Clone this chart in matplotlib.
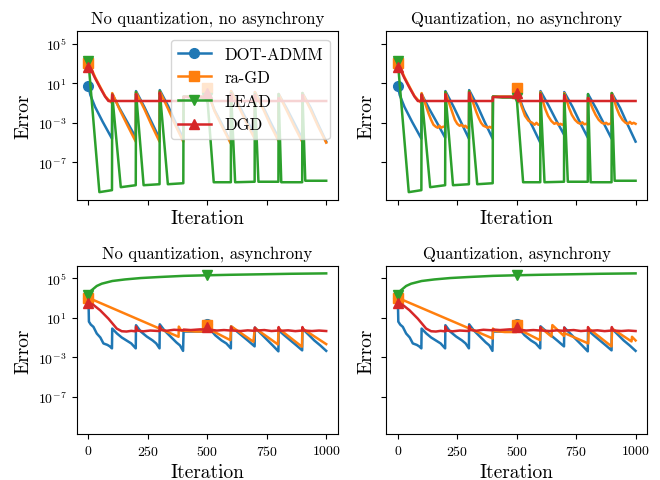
import numpy as np
import matplotlib
matplotlib.use("Agg")
import matplotlib.pyplot as plt
from matplotlib.ticker import NullLocator

plt.rcParams['font.family'] = 'serif'
plt.rcParams['font.serif'] = ['cmr10']
plt.rcParams['mathtext.fontset'] = 'cm'
plt.rcParams['axes.formatter.use_mathtext'] = True

# log10 of the error

# top row: DOT-ADMM, LEAD, DGD are the same in both panels
top_dot_it = [0, 8, 28, 60, 99, 100, 130, 165, 199, 200, 235, 265, 299, 300, 335, 365, 399,
              400, 495, 500, 508, 530, 565, 599, 600, 635, 665, 699, 700, 735, 765, 799,
              800, 835, 865, 899, 900, 935, 965, 1000]
top_dot_log = [0.7, -0.2, -1.4, -2.9, -4.6, -0.1, -1.5, -3.0, -4.5, 0.2, -1.4, -2.9, -4.6, 0.3, -1.3, -2.9, -4.6,
               -0.35, -0.35, 0.45, -0.3, -1.7, -3.3, -5.0, 0.2, -1.3, -2.7, -4.2, 0.1, -1.4, -2.9, -4.5,
               -0.1, -1.6, -3.0, -4.6, 0.0, -1.5, -3.1, -4.9]

top_lead_it = [0, 46, 99, 100, 136, 199, 200, 232, 299, 300, 334, 399, 400, 440, 499, 500, 527, 599,
               600, 617, 699, 700, 715, 799, 800, 811, 899, 900, 912, 1000]
top_lead_log = [3.2, -10.0, -9.8, -0.15, -9.5, -9.3, 0.1, -9.3, -9.2, 0.2, -9.2, -9.1, -0.35, -0.45, -0.45, -0.45, -9.0, -9.0,
                0.0, -9.0, -8.95, -0.1, -8.95, -8.95, -0.1, -9.0, -9.0, 0.0, -8.85, -8.85]

top_dgd_it = [0, 12, 28, 50, 70, 84, 99, 100, 106, 199, 200, 206, 299, 300, 306, 399, 400, 499, 500, 506,
              599, 600, 606, 699, 700, 706, 799, 800, 806, 899, 900, 906, 1000]
top_dgd_log = [2.6, 2.3, 1.5, 0.5, -0.35, -0.8, -0.8, -0.15, -0.8, -0.8, -0.1, -0.8, -0.8, 0.05, -0.8, -0.8, -0.4, -0.4, 0.0, -0.8,
               -0.8, -0.1, -0.8, -0.8, -0.2, -0.8, -0.8, -0.5, -0.8, -0.8, -0.2, -0.8, -0.8]

# ra-GD, no quantization
tl_ragd_it = [0, 12, 28, 50, 70, 85, 99, 100, 130, 165, 199, 200, 235, 265, 299, 300, 335, 365, 399,
              400, 499, 500, 508, 530, 565, 599, 600, 635, 665, 699, 700, 735, 765, 799,
              800, 835, 865, 899, 900, 935, 965, 1000]
tl_ragd_log = [3.0, 2.5, 1.6, 0.6, -0.3, -0.7, -1.0, 0.0, -1.6, -3.3, -4.9, 0.1, -1.6, -3.2, -4.9, 0.2, -1.6, -3.2, -4.9,
               -0.35, -0.35, 0.5, -0.3, -1.8, -3.5, -5.1, 0.2, -1.5, -3.0, -4.6, 0.1, -1.6, -3.2, -4.8,
               -0.1, -1.8, -3.3, -4.9, 0.0, -1.7, -3.3, -5.0]

# ra-GD, quantization
tr_ragd_it = [0, 12, 28, 50, 70, 85, 99,
              100, 110, 120, 130, 140, 150, 160, 168, 175, 182, 190, 199,
              200, 210, 220, 230, 240, 250, 260, 268, 276, 284, 292, 299,
              300, 310, 320, 330, 340, 350, 360, 370, 378, 386, 393, 399,
              400, 499,
              500, 508, 520, 535, 550, 565, 575, 583, 591, 599,
              600, 610, 620, 632, 645, 658, 668, 676, 684, 692, 699,
              700, 710, 720, 732, 745, 758, 768, 776, 784, 792, 799,
              800, 810, 820, 832, 845, 858, 868, 876, 884, 892, 899,
              900, 910, 920, 932, 945, 958, 968, 976, 984, 992, 1000]
tr_ragd_log = [3.0, 2.5, 1.6, 0.6, -0.3, -0.7, -1.0,
               0.0, -0.7, -1.4, -2.1, -2.7, -3.2, -3.4, -3.5, -3.3, -3.5, -3.4, -3.4,
               0.1, -0.6, -1.3, -2.0, -2.7, -3.1, -3.3, -3.2, -3.4, -3.3, -3.5, -3.4,
               0.2, -0.5, -1.2, -1.9, -2.5, -3.0, -3.3, -3.4, -3.5, -3.4, -3.5, -3.5,
               -0.35, -0.35,
               0.5, -0.3, -1.3, -2.3, -2.8, -3.0, -3.2, -3.0, -3.2, -3.2,
               0.1, -0.8, -1.6, -2.3, -2.8, -3.1, -3.0, -3.2, -3.1, -3.2, -3.1,
               0.0, -0.7, -1.5, -2.2, -2.7, -3.0, -3.1, -2.95, -3.15, -3.1, -3.2,
               -0.4, -1.0, -1.6, -2.2, -2.7, -3.0, -3.1, -3.0, -3.15, -3.1, -3.1,
               0.0, -0.7, -1.5, -2.2, -2.7, -3.0, -3.1, -2.9, -3.1, -3.0, -3.1]

# bottom row: DOT-ADMM, LEAD, DGD are the same in both panels
bot_dot_it = [0, 2, 10, 21, 35, 50, 63, 80, 90, 99,
              100, 120, 140, 160, 180, 199, 200, 220, 245, 270, 285, 299,
              300, 320, 345, 370, 385, 398, 400, 499,
              500, 510, 533, 560, 580, 599, 600, 625, 650, 675, 699,
              700, 725, 750, 775, 799, 800, 825, 850, 875, 899,
              900, 925, 950, 975, 1000]
bot_dot_log = [3.0, 0.6, 0.3, 0.07, -0.6, -1.0, -1.6, -1.75, -1.9, -2.1,
               -0.1, -0.6, -1.0, -1.3, -1.6, -2.1, 0.24, -0.4, -0.9, -1.3, -1.6, -2.1,
               0.33, -0.3, -0.9, -1.5, -1.8, -2.35, -0.4, -0.4,
               0.4, -0.1, -0.77, -1.3, -1.6, -2.1, 0.13, -0.4, -0.9, -1.4, -1.9,
               0.0, -0.6, -1.2, -1.8, -2.4, -0.27, -0.8, -1.3, -1.8, -2.3,
               -0.1, -0.7, -1.3, -1.8, -2.35]

bot_lead_it = [0, 4, 10, 21, 35, 56, 100, 154, 220, 295, 400, 500, 600, 729, 850, 1000]
bot_lead_log = [3.25, 3.5, 3.7, 3.92, 4.2, 4.43, 4.7, 4.86, 5.0, 5.1, 5.22, 5.28, 5.33, 5.38, 5.43, 5.47]

bot_dgd_it = [0, 20, 49, 84, 119, 140, 160, 180, 199, 200, 206, 230, 260, 299, 300, 306, 330, 360, 399,
              400, 430, 470, 499, 500, 506, 540, 570, 599, 600, 606, 640, 670, 699, 700, 706, 740, 770, 799,
              800, 806, 840, 870, 899, 900, 906, 940, 970, 1000]
bot_dgd_log = [2.5, 2.3, 1.75, 0.9, -0.1, -0.37, -0.4, -0.33, -0.38, 0.1, -0.3, -0.38, -0.3, -0.35, 0.15, -0.25, -0.32, -0.22, -0.28,
               -0.2, -0.25, -0.18, -0.2, 0.1, -0.2, -0.3, -0.25, -0.3, 0.05, -0.3, -0.35, -0.28, -0.33, 0.0, -0.3, -0.25, -0.35, -0.3,
               0.05, -0.33, -0.28, -0.36, -0.3, 0.05, -0.3, -0.35, -0.3, -0.35]

# ra-GD, no quantization
bl_ragd_it = [0, 379, 380, 390, 450, 499, 500, 510, 597, 600, 694, 700, 797, 800, 898, 900, 1000]
bl_ragd_log = [3.0, -0.93, 0.1, -0.3, -0.4, -0.4, 0.3, -0.2, -1.27, 0.13, -1.43, -0.05, -1.7, -0.1, -1.93, -0.1, -1.67]

# ra-GD, quantization
br_ragd_it = [0, 399, 400, 410, 450, 499, 500, 510, 598, 600, 646, 650, 699, 700, 801, 803, 899, 901, 983, 985, 1000]
br_ragd_log = [3.0, -1.1, -0.1, -0.35, -0.45, -0.45, 0.3, -0.2, -1.27, 0.0, -0.9, 0.25, -0.85, -0.55, -1.6, -0.1, -1.9, -0.1, -1.4, -0.93, -1.3]

titles = ["No quantization, no asynchrony", "Quantization, no asynchrony",
          "No quantization, asynchrony", "Quantization, asynchrony"]
names = ["DOT-ADMM", "ra-GD", "LEAD", "DGD"]
colors = ["tab:blue", "tab:orange", "tab:green", "tab:red"]
markers = ["o", "s", "v", "^"]

panels = [
    [(top_dot_it, top_dot_log), (tl_ragd_it, tl_ragd_log), (top_lead_it, top_lead_log), (top_dgd_it, top_dgd_log)],
    [(top_dot_it, top_dot_log), (tr_ragd_it, tr_ragd_log), (top_lead_it, top_lead_log), (top_dgd_it, top_dgd_log)],
    [(bot_dot_it, bot_dot_log), (bl_ragd_it, bl_ragd_log), (bot_lead_it, bot_lead_log), (bot_dgd_it, bot_dgd_log)],
    [(bot_dot_it, bot_dot_log), (br_ragd_it, br_ragd_log), (bot_lead_it, bot_lead_log), (bot_dgd_it, bot_dgd_log)],
]

fig, axs = plt.subplots(2, 2, figsize=(6.6, 4.81), dpi=100, sharex=True, sharey=True)
fig.subplots_adjust(left=0.116, right=0.981, top=0.933, bottom=0.095, wspace=0.183, hspace=0.391)

for ax, title, series in zip(axs.flat, titles, panels):
    for (it, lg), name, c, m in zip(series, names, colors, markers):
        # markers only at iteration 0 and 500
        marks = [i for i, x in enumerate(it) if x in (0, 500)]
        ax.plot(it, 10.0 ** np.array(lg), color=c, marker=m, markevery=marks,
                markersize=7, linewidth=1.8, label=name)
    ax.set_yscale('log')
    ax.set_title(title, fontsize=12)
    ax.set_xlabel('Iteration', fontsize=14, labelpad=3.5)
    ax.set_ylabel('Error', fontsize=14)
    ax.tick_params(labelsize=10)

axs[0, 0].set_yticks([1e5, 1e1, 1e-3, 1e-7])
axs[0, 0].yaxis.set_minor_locator(NullLocator())
axs[0, 0].set_xticks([0, 250, 500, 750, 1000])
axs[0, 0].legend(loc='upper right', fontsize=12)

plt.savefig('out.png', dpi=100)
